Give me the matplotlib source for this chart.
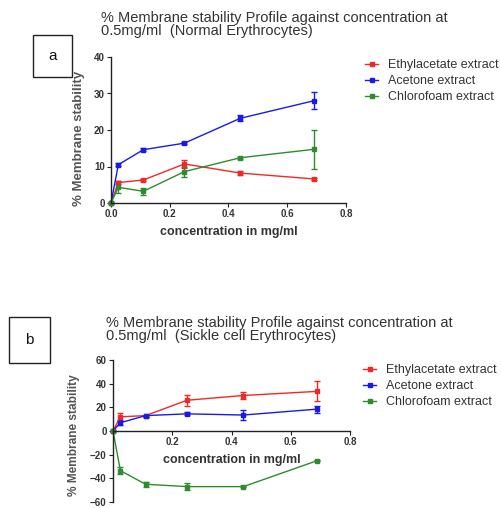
import matplotlib
matplotlib.use("Agg")
import matplotlib.pyplot as plt
from matplotlib.patches import Rectangle
from matplotlib.lines import Line2D

plt.rcParams["font.family"] = ["Liberation Sans", "DejaVu Sans"]

# --- data ---
conc = [0, 0.025, 0.11, 0.25, 0.44, 0.69]
series_names = ["Ethylacetate extract", "Acetone extract", "Chlorofoam extract"]

# (a) normal erythrocytes
ethyl_a = [0, 5.6, 6.3, 10.7, 8.2, 6.6]
ethyl_a_err = [0, 0.5, 0.4, 1.2, 0.6, 0.3]
acetone_a = [0, 10.5, 14.6, 16.4, 23.2, 28.0]
acetone_a_err = [0, 0.4, 0.4, 0.3, 0.8, 2.3]
chloro_a = [0, 4.3, 3.2, 8.6, 12.4, 14.7]
chloro_a_err = [0, 1.6, 0.9, 1.4, 0.3, 5.3]

# (b) sickle cell erythrocytes
ethyl_b = [0, 12.0, 13.0, 26.0, 30.0, 33.5]
ethyl_b_err = [0, 3.5, 0.8, 4.5, 3.0, 8.5]
acetone_b = [0, 7.0, 13.0, 14.5, 13.5, 18.5]
acetone_b_err = [0, 2.0, 0.8, 1.2, 4.0, 3.0]
chloro_b = [0, -33.5, -45.0, -47.0, -47.0, -25.0]
chloro_b_err = [0, 3.0, 2.0, 3.0, 0.5, 0.5]

COLORS = ["#f02828", "#1a1ae6", "#2e8b2e"]
TXT = "#333333"

W, H = 502, 508
fig = plt.figure(figsize=(W / 100, H / 100), dpi=100)


def px_axes(l, t, r, b):
    return fig.add_axes([l / W, 1 - b / H, (r - l) / W, (b - t) / H])


def draw(ax, ys, errs):
    for y, e, c in zip(ys, errs, COLORS):
        ax.errorbar(conc, y, yerr=e, color=c, lw=1.0, marker="s", ms=2.5,
                    capsize=2, elinewidth=1.0, capthick=1.0, clip_on=False)
    for side in ("top", "right"):
        ax.spines[side].set_visible(False)
    for side in ("left", "bottom"):
        ax.spines[side].set_linewidth(1.0)
        ax.spines[side].set_color("#222222")
    ax.set_xlim(0, 0.8)
    ax.tick_params(labelsize=7, colors="#222222", length=3, width=0.8,
                   labelcolor=TXT, pad=1.5)


def bold_ticks(ax):
    for lab in ax.get_xticklabels() + ax.get_yticklabels():
        lab.set_fontweight("bold")


def legend(ax, x, y):
    handles = [Line2D([], [], color=c, lw=1.0, marker="s", ms=2.5) for c in COLORS]
    ax.legend(handles, series_names, loc="upper left", bbox_to_anchor=(x / W, 1 - y / H),
              bbox_transform=fig.transFigure, frameon=False, fontsize=9,
              handlelength=1.05, handletextpad=0.8, labelspacing=0.32,
              labelcolor=TXT, borderaxespad=0, borderpad=0)


def header(x, y, lines, box, letter):
    fig.text(x / W, 1 - y / H, lines, fontsize=10.5, color=TXT, va="top",
             ha="left", linespacing=0.95)
    l, t, r, b = box
    fig.patches.append(Rectangle((l / W, 1 - b / H), (r - l) / W, (b - t) / H,
                                 transform=fig.transFigure, fill=False,
                                 ec="#222222", lw=1.0))
    fig.text((l + r) / 2 / W, 1 - (t + b) / 2 / H, letter, fontsize=11,
             ha="center", va="center", color="#111111")


# ---- panel a ----
axa = px_axes(111, 57, 346, 203)
draw(axa, [ethyl_a, acetone_a, chloro_a], [ethyl_a_err, acetone_a_err, chloro_a_err])
axa.set_ylim(0, 40)
axa.set_yticks([0, 10, 20, 30, 40])
axa.set_xticks([0, 0.2, 0.4, 0.6, 0.8])
axa.set_xticklabels(["0.0", "0.2", "0.4", "0.6", "0.8"])
bold_ticks(axa)
axa.set_xlabel("concentration in mg/ml", fontsize=9, color=TXT, fontweight="bold", labelpad=5)
axa.set_ylabel("% Membrane stability", fontsize=9.5, color="#555555", fontweight="bold")
axa.yaxis.set_label_coords(-0.11, 0.44)
legend(axa, 365, 59)
header(101, 11, "% Membrane stability Profile against concentration at\n0.5mg/ml  (Normal Erythrocytes)",
       (33, 35, 72, 77), "a")

# ---- panel b ----
axb = px_axes(113, 360, 350, 502)
draw(axb, [ethyl_b, acetone_b, chloro_b], [ethyl_b_err, acetone_b_err, chloro_b_err])
axb.set_ylim(-60, 60)
axb.set_yticks([-60, -40, -20, 0, 20, 40, 60])
axb.set_xticks([0.2, 0.4, 0.6, 0.8])
axb.spines["bottom"].set_position(("data", 0))
bold_ticks(axb)
axb.set_xlabel("concentration in mg/ml", fontsize=9, color=TXT, fontweight="bold")
axb.xaxis.set_label_coords(0.5, 0.34)
axb.set_ylabel("% Membrane stability", fontsize=8.6, color="#555555", fontweight="bold")
axb.yaxis.set_label_coords(-0.14, 0.47)
legend(axb, 363, 364)
header(106, 316, "% Membrane stability Profile against concentration at\n0.5mg/ml  (Sickle cell Erythrocytes)",
       (9, 317, 50, 363), "b")

fig.savefig("out.png", dpi=100)
